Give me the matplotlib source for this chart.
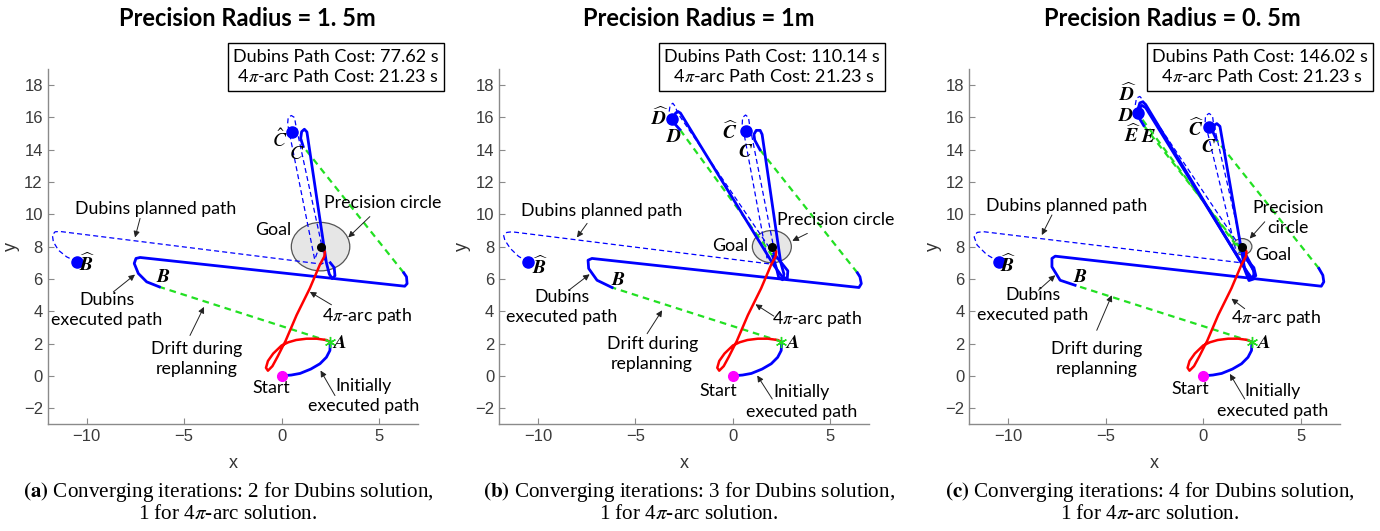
import matplotlib
matplotlib.use('Agg')
import matplotlib.pyplot as plt
from matplotlib.patches import Circle
from matplotlib.mathtext import MathTextParser
from matplotlib.font_manager import FontProperties

plt.rcParams['mathtext.fontset'] = 'stix'
SANS = 'Lato'
SERIF = 'Liberation Serif'

# bold italic letters for the point labels, if mathtext knows \boldsymbol
try:
    MathTextParser('agg').parse(r'$\widehat{\boldsymbol{B}}$', 100, FontProperties())
    BF = r'\boldsymbol'
except Exception:
    BF = r'\mathbf'

# ---------------- data ----------------
titles = ['Precision Radius = 1. 5m', 'Precision Radius = 1m', 'Precision Radius = 0. 5m']
radii = [1.5, 1.0, 0.5]
dubins_cost = ['77.62', '110.14', '146.02']
arc_cost = '21.23'
iterations = [2, 3, 4]
tags = ['a', 'b', 'c']

start = (0.0, 0.0)
goal = (2.0, 8.0)
point_a = (2.48, 2.12)

init_path = [(0, 0), (0.5, 0.05), (0.95, 0.15), (1.5, 0.42), (1.97, 0.75),
             (2.3, 1.15), (2.48, 1.57), (2.5, 2.1)]
arc_path = [(2.48, 2.1), (2.3, 2.22), (1.8, 2.3), (1.28, 2.3), (0.75, 2.22), (0.35, 2.08),
            (0.0, 1.88), (-0.43, 1.38), (-0.7, 0.92), (-0.8, 0.5), (-0.7, 0.32), (-0.47, 0.6),
            (-0.2, 1.2), (0.05, 1.8), (0.2, 2.15), (0.77, 3.76), (1.45, 5.42), (1.96, 6.87),
            (2.2, 7.4), (2.22, 7.7), (2.02, 8.03)]

# panel (a)
p1_planned = [[(-10.5, 7.06), (-11.03, 7.37), (-11.45, 7.78), (-11.71, 8.3), (-11.76, 8.72),
               (-11.62, 8.92), (-11.37, 8.94), (2.05, 6.92), (2.22, 7.05), (2.2, 7.3),
               (0.72, 15.6), (0.66, 16.0), (0.5, 16.12), (0.34, 16.0), (0.31, 15.6),
               (1.7, 7.2), (1.85, 7.7), (1.98, 8.0)]]
p1_exec = [[(-6.27, 5.51), (-6.92, 5.82), (-7.35, 6.34), (-7.56, 6.96), (-7.47, 7.27),
            (-7.26, 7.33), (6.32, 5.55), (6.44, 5.71), (6.41, 6.13), (6.27, 6.38)],
           [(1.11, 14.2), (0.98, 14.7), (1.03, 15.12), (1.17, 15.27), (1.3, 15.1),
            (2.3, 7.0), (2.45, 6.3), (2.6, 6.02), (2.74, 6.2), (2.7, 6.7), (2.5, 7.0)]]
p1_drift = [[point_a, (-6.27, 5.51)], [(6.27, 6.38), (1.11, 14.2)]]
p1_dots = [(-10.5, 7.06), (0.54, 15.1)]

# panel (b)
p2_planned = [[(-10.51, 7.06), (-11.0, 7.4), (-11.42, 7.89), (-11.7, 8.4), (-11.76, 8.68),
               (-11.6, 8.88), (-11.34, 8.92), (2.1, 6.9), (2.25, 7.05), (2.2, 7.3),
               (0.85, 15.6), (0.8, 16.0), (0.65, 16.15), (0.5, 16.0), (0.48, 15.6),
               (1.75, 7.3), (1.9, 7.7), (1.98, 7.95)],
              [(-3.11, 15.9), (-3.27, 16.35), (-3.22, 16.75), (-3.08, 16.88), (-2.94, 16.65),
               (-2.85, 16.3), (1.95, 7.8)]]
p2_exec = [[(-6.2, 5.47), (-6.97, 5.92), (-7.4, 6.65), (-7.43, 7.16), (-7.23, 7.27),
            (6.47, 5.47), (6.59, 5.71), (6.52, 6.13), (6.39, 6.38)],
           [(1.39, 14.0), (1.12, 14.6), (1.08, 14.95), (1.2, 15.2), (1.4, 15.2), (1.5, 14.95),
            (2.45, 7.06), (2.62, 6.3), (2.55, 5.95), (2.35, 6.1), (2.25, 6.6), (2.05, 7.4)],
           [(-2.72, 15.25), (-2.98, 15.6), (-3.03, 15.95), (-2.94, 16.27), (-2.82, 16.37),
            (-2.69, 16.27), (2.1, 6.85), (2.54, 6.12), (2.79, 6.02), (2.82, 6.5),
            (2.45, 7.06), (2.1, 7.58)]]
p2_drift = [[point_a, (-6.2, 5.47)], [(6.39, 6.38), (1.39, 14.0)], [(2.05, 7.4), (-2.72, 15.25)]]
p2_dots = [(-10.51, 7.06), (0.65, 15.18), (-3.11, 15.9)]

# panel (c)
p3_planned = [[(-10.46, 7.06), (-11.1, 7.5), (-11.6, 8.1), (-11.75, 8.6), (-11.6, 8.88),
               (-11.3, 8.93), (1.96, 7.0), (2.15, 7.1), (2.1, 7.35),
               (0.52, 15.7), (0.48, 16.1), (0.3, 16.25), (0.12, 16.1), (0.1, 15.7),
               (1.75, 7.4), (1.95, 7.9)],
              [(-3.33, 16.3), (-3.48, 16.8), (-3.42, 17.2), (-3.25, 17.3), (-3.1, 17.1),
               (-3.0, 16.8), (1.95, 7.9)]]
p3_exec = [[(-6.57, 5.61), (-7.34, 5.92), (-7.76, 6.75), (-7.76, 7.27), (-7.59, 7.41),
            (6.06, 5.55), (6.19, 5.82), (6.14, 6.23), (5.94, 6.65)],
           [(0.68, 14.62), (0.5, 15.1), (0.55, 15.5), (0.7, 15.62), (0.86, 15.45),
            (2.14, 6.55), (2.35, 5.9), (2.6, 6.0), (2.6, 6.5), (2.3, 7.1), (2.05, 7.5)],
           [(-3.2, 16.0), (-3.35, 16.5), (-3.25, 16.9), (-3.1, 16.97), (-2.95, 16.8),
            (2.2, 6.5), (2.45, 6.0), (2.7, 6.2), (2.6, 6.7), (2.3, 7.1), (1.9, 7.9)],
           [(-3.05, 15.5), (-3.3, 16.0), (-3.3, 16.5), (-3.15, 16.75), (-2.95, 16.6),
            (2.25, 6.45), (2.5, 6.05), (2.65, 6.3), (2.45, 6.9), (2.1, 7.7), (2.0, 7.95)]]
p3_drift = [[point_a, (-6.57, 5.61)], [(5.94, 6.65), (0.68, 14.62)],
            [(2.05, 7.5), (-3.2, 16.0)], [(1.9, 7.9), (-3.05, 15.5)]]
p3_dots = [(-10.46, 7.06), (0.31, 15.38), (-3.33, 16.27)]

planned = [p1_planned, p2_planned, p3_planned]
executed = [p1_exec, p2_exec, p3_exec]
drifts = [p1_drift, p2_drift, p3_drift]
dots = [p1_dots, p2_dots, p3_dots]


def hat(s):
    return r'$\widehat{%s{%s}}$' % (BF, s)


def bi(s):
    return r'$%s{%s}$' % (BF, s)


# text labels (text, x, y) and arrows (tail, head) for each panel
notes = [
    [('Dubins planned path', -6.46, 10.31), ('Dubins\nexecuted path', -8.97, 4.06),
     ('Drift during\nreplanning', -4.36, 1.06), ('4$\\pi$-arc path', 4.36, 3.7),
     ('Start', -0.51, -0.77), ('Initially\nexecuted path', 4.19, -1.22),
     ('Precision circle', 5.21, 10.72), ('Goal', -0.43, 9.03)],
    [('Dubins planned path', -6.71, 10.2), ('Dubins\nexecuted path', -8.77, 4.27),
     ('Drift during\nreplanning', -4.14, 1.37), ('4$\\pi$-arc path', 4.3, 3.5),
     ('Start', -0.75, -0.91), ('Initially\nexecuted path', 3.51, -1.64),
     ('Precision circle', 5.27, 9.65), ('Goal', -0.12, 8.05)],
    [('Dubins planned path', -7.0, 10.54), ('Dubins\nexecuted path', -8.74, 4.37),
     ('Drift during\nreplanning', -5.46, 1.06), ('4$\\pi$-arc path', 3.72, 3.6),
     ('Start', -0.65, -0.81), ('Initially\nexecuted path', 3.58, -1.53),
     ('Precision\ncircle', 4.35, 9.75), ('Goal', 3.58, 7.5)],
]
arrows = [
    [((-7.26, 9.75), (-7.52, 8.57)), ((-8.63, 5.2), (-7.52, 6.27)), ((-4.7, 2.5), (-3.98, 4.27)),
     ((2.56, 4.4), (1.45, 5.2)), ((2.74, -1.22), (2.0, 0.33)), ((4.53, 9.86), (3.42, 8.57))],
    [((-7.48, 9.44), (-8.0, 8.57)), ((-8.42, 5.3), (-7.35, 6.29)), ((-4.4, 2.61), (-3.63, 4.06)),
     ((2.1, 3.7), (1.16, 4.43)), ((2.02, -1.43), (1.25, 0.02)), ((3.82, 8.82), (3.05, 8.36))],
    [((-7.76, 9.96), (-8.28, 8.72)), ((-8.45, 5.3), (-7.59, 6.23)), ((-5.46, 2.82), (-4.69, 4.99)),
     ((2.13, 4.16), (1.45, 4.78)), ((2.13, -1.43), (1.37, 0.12)), ((3.16, 9.54), (2.39, 8.5))],
]
letters = [
    [(r'$\hat{C}$', -0.09, 14.62), (r'$C$', 0.77, 13.79), (hat('B'), -9.97, 6.96),
     (bi('B'), -6.07, 6.13), (bi('A'), 2.99, 2.09)],
    [(hat('D'), -3.72, 15.96), (bi('D'), -3.03, 14.82), (hat('C'), -0.12, 15.13),
     (bi('C'), 0.65, 13.89), (hat('B'), -9.88, 6.75), (bi('B'), -5.86, 5.96), (bi('A'), 3.05, 2.09)],
    [(hat('D'), -3.84, 17.45), (bi('D'), -3.95, 16.1), (hat('E'), -3.62, 14.9),
     (bi('E'), -2.78, 14.85), (hat('C'), -0.38, 15.28), (bi('C'), 0.26, 14.2),
     (hat('B'), -9.98, 6.85), (bi('B'), -6.31, 6.13), (bi('A'), 3.07, 2.09)],
]

BLUE = '#0000ff'
RED = '#ff0000'
GREEN = '#22e022'

W, H = 1380, 531
fig = plt.figure(figsize=(W / 100, H / 100), dpi=100)

ax_left = [47.7, 499.0, 969.3]
title_x = [247, 699, 1172]
box_x = [336, 772, 1260]
cap_x = [228, 689, 1150]


def xy(pts):
    return [p[0] for p in pts], [p[1] for p in pts]


for i in range(3):
    ax = fig.add_axes([ax_left[i] / W, (H - 424.3) / H, 370.3 / W, 355.3 / H])
    ax.set_xlim(-12, 7)
    ax.set_ylim(-3, 19)
    for s in ['top', 'right']:
        ax.spines[s].set_visible(False)
    for s in ['left', 'bottom']:
        ax.spines[s].set_color('#8a8a8a')
        ax.spines[s].set_linewidth(1.0)
    ax.set_xticks([-10, -5, 0, 5])
    ax.set_yticks(range(-2, 19, 2))
    ax.tick_params(direction='in', length=4, color='#8a8a8a', labelcolor='#3a3a3a',
                   labelsize=12)
    for lab in ax.get_xticklabels() + ax.get_yticklabels():
        lab.set_family('Liberation Sans')
    ax.set_xlabel('x', fontsize=13, family='Liberation Sans', color='#333333')
    ax.set_ylabel('y', fontsize=13, family='Liberation Sans', color='#333333')
    ax.xaxis.set_label_coords(0.5, -0.085)
    ax.yaxis.set_label_coords(-0.075, 0.5)

    ax.add_patch(Circle(goal, radii[i], facecolor='#e6e6e6', edgecolor='#555555',
                        lw=0.9, zorder=1))

    for pth in planned[i]:
        ax.plot(*xy(pth), color=BLUE, lw=0.9, dashes=(4, 2.5), zorder=2)
    for pth in drifts[i]:
        ax.plot(*xy(pth), color=GREEN, lw=1.6, dashes=(3, 2.2), zorder=2)
    ax.plot(*xy(init_path), color=BLUE, lw=2, zorder=3)
    for pth in executed[i]:
        ax.plot(*xy(pth), color=BLUE, lw=2, zorder=3)
    ax.plot(*xy(arc_path), color=RED, lw=1.8, zorder=4)

    ax.plot(*xy(dots[i]), 'o', color=BLUE, ms=8, zorder=5)
    ax.plot(*start, 'o', color='#ff00ff', ms=7, zorder=5)
    ax.plot(*goal, 'o', color='black', ms=5.5, zorder=5)
    ax.plot(*point_a, marker=(6, 2, 0), color=GREEN, ms=8, mew=1, zorder=5)

    for txt, tx, ty in notes[i]:
        ax.text(tx, ty, txt, ha='center', va='center', fontsize=12.8, family=SANS,
                linespacing=1.3, zorder=6)
    for tail, head in arrows[i]:
        ax.annotate('', xy=head, xytext=tail,
                    arrowprops=dict(arrowstyle='-|>', color='#222222', lw=0.7,
                                    mutation_scale=9, shrinkA=0, shrinkB=0), zorder=6)
    for txt, tx, ty in letters[i]:
        ax.text(tx, ty, txt, ha='center', va='center', fontsize=14, zorder=6)

    fig.text(title_x[i] / W, 1 - 19 / H, titles[i], ha='center', va='center',
             fontsize=17, fontweight='bold', family=SANS)
    fig.text(box_x[i] / W, 1 - 67 / H,
             'Dubins Path Cost: %s s\n 4$\\pi$-arc Path Cost: %s s' % (dubins_cost[i], arc_cost),
             ha='center', va='center', fontsize=13, family=SANS, linespacing=1.25,
             bbox=dict(boxstyle='square,pad=0.3', fc='white', ec='black', lw=1))
    fig.text(cap_x[i] / W, 1 - 502 / H,
             r'$\mathbf{(%s)}$ Converging iterations: %d for Dubins solution,' % (tags[i], iterations[i])
             + '\n' + r'1 for 4$\pi$-arc solution.',
             ha='center', va='center', fontsize=15.2, family=SERIF, linespacing=1.12)

fig.savefig('out.png', dpi=100)
